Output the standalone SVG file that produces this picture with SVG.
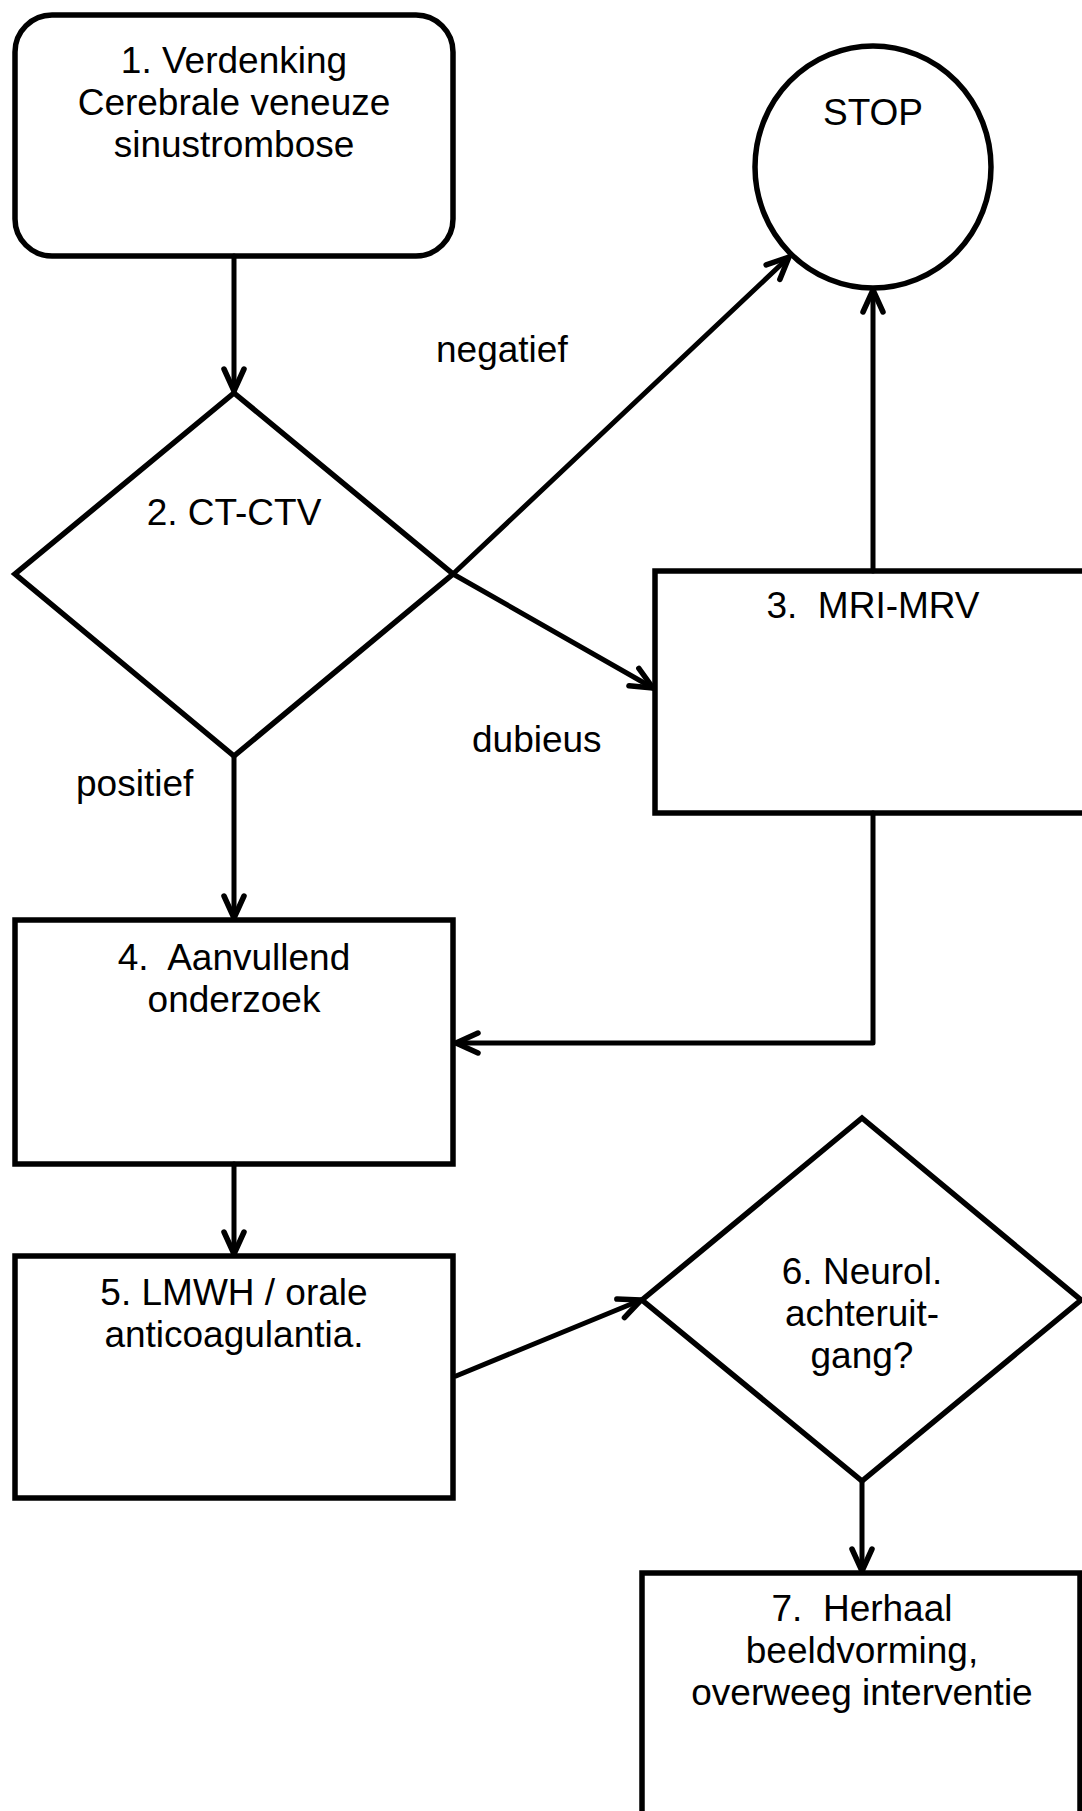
<svg xmlns="http://www.w3.org/2000/svg" width="1082" height="1811" viewBox="0 0 1082 1811">
<style>
.node{fill:#fff;stroke:#000;stroke-width:5.5;stroke-linejoin:miter}
.lbl{font-family:"Liberation Sans",Arial,sans-serif;font-size:37px;fill:#000;text-anchor:middle;white-space:pre}
.edge{fill:none;stroke:#000;stroke-width:5;stroke-linecap:round;stroke-linejoin:round}
.elbl{font-family:"Liberation Sans",Arial,sans-serif;font-size:37px;fill:#000}
</style>
<defs>
<marker id="arr" markerUnits="userSpaceOnUse" viewBox="-26 -14 30 28" refX="0" refY="0" markerWidth="30" markerHeight="28" orient="auto" overflow="visible">
<path d="M -22 -10 L 0 0 L -22 10" fill="none" stroke="#000" stroke-width="5.5" stroke-linecap="round" stroke-linejoin="round"/>
</marker>
</defs>
<rect width="1082" height="1811" fill="#fff"/>
<g id="n1">
<rect class="node" x="15" y="15" width="438" height="241" rx="37" ry="37"/>
<text class="lbl" x="234" y="73">1. Verdenking</text>
<text class="lbl" x="234" y="115">Cerebrale veneuze</text>
<text class="lbl" x="234" y="157">sinustrombose</text>
</g>
<g id="stop">
<ellipse class="node" cx="873" cy="167" rx="118" ry="121"/>
<text class="lbl" x="873" y="125">STOP</text>
</g>
<g id="n2">
<polygon class="node" points="234,393 453,574 234,756 15,574"/>
<text class="lbl" x="234" y="525">2. CT-CTV</text>
</g>
<g id="n3">
<rect class="node" x="655" y="571" width="440" height="242"/>
<text class="lbl" x="873" y="618">3.  MRI-MRV</text>
</g>
<g id="n4">
<rect class="node" x="15" y="920" width="438" height="244"/>
<text class="lbl" x="234" y="970">4.  Aanvullend</text>
<text class="lbl" x="234" y="1012">onderzoek</text>
</g>
<g id="n5">
<rect class="node" x="15" y="1256" width="438" height="242"/>
<text class="lbl" x="234" y="1305">5. LMWH / orale</text>
<text class="lbl" x="234" y="1347">anticoagulantia.</text>
</g>
<g id="n6">
<polygon class="node" points="862,1118 1081,1300 862,1481 642,1300"/>
<text class="lbl" x="862" y="1284">6. Neurol.</text>
<text class="lbl" x="862" y="1326">achteruit-</text>
<text class="lbl" x="862" y="1368">gang?</text>
</g>
<g id="n7">
<rect class="node" x="642" y="1573" width="438" height="260"/>
<text class="lbl" x="862" y="1621">7.  Herhaal</text>
<text class="lbl" x="862" y="1663">beeldvorming,</text>
<text class="lbl" x="862" y="1705">overweeg interventie</text>
</g>
<g id="connectors">
<line class="edge" x1="234" y1="256" x2="234" y2="391" marker-end="url(#arr)"/>
<line class="edge" x1="453" y1="574" x2="789" y2="257" marker-end="url(#arr)"/>
<line class="edge" x1="453" y1="574" x2="653" y2="688" marker-end="url(#arr)"/>
<line class="edge" x1="873" y1="571" x2="873" y2="290" marker-end="url(#arr)"/>
<line class="edge" x1="234" y1="756" x2="234" y2="918" marker-end="url(#arr)"/>
<polyline class="edge" points="873,813 873,1043 456,1043" marker-end="url(#arr)"/>
<line class="edge" x1="234" y1="1164" x2="234" y2="1254" marker-end="url(#arr)"/>
<line class="edge" x1="456" y1="1376" x2="641" y2="1300" marker-end="url(#arr)"/>
<line class="edge" x1="862" y1="1481" x2="862" y2="1571" marker-end="url(#arr)"/>
<text class="elbl" x="436" y="362">negatief</text>
<text class="elbl" x="472" y="752">dubieus</text>
<text class="elbl" x="76" y="796">positief</text>
</g>
</svg>
